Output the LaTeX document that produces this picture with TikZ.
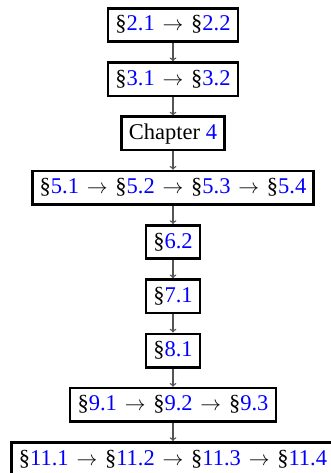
\documentclass[tikz,border=0pt]{standalone}
\usepackage{fontspec}
\setmainfont{Liberation Serif}
\usepackage{xcolor}
\definecolor{linkblue}{HTML}{0000FF}
\definecolor{flowgray}{HTML}{555555}
\usetikzlibrary{positioning}
\newcommand{\refno}[1]{\textcolor{linkblue}{#1}}
\newcommand{\nxt}{\hspace{7.8pt}$\rightarrow$\hspace{7.8pt}}

\begin{document}
\begin{tikzpicture}[x=1pt,y=1pt,node distance=18.25pt,
  stepbox/.style={draw=black,line width=2.6pt,inner xsep=7.5pt,inner ysep=0pt,
                  text height=16pt,text depth=4pt,
                  minimum height=33.4pt,font=\fontsize{22.5}{26}\selectfont},
  flow/.style={->,line width=1.4pt,flowgray}]

  \useasboundingbox (0,0) rectangle (330,-473);

  % chapters, top to bottom
  \node[stepbox] (c2) at (173,-25) {§\refno{2.1}\nxt§\refno{2.2}};
  \node[stepbox,below=of c2] (c3) {§\refno{3.1}\nxt§\refno{3.2}};
  \node[stepbox,below=of c3] (c4) {Chapter \refno{4}};
  \node[stepbox,below=of c4] (c5) {§\refno{5.1}\nxt§\refno{5.2}\nxt§\refno{5.3}\nxt§\refno{5.4}};
  \node[stepbox,below=of c5] (c6) {§\refno{6.2}};
  \node[stepbox,below=of c6] (c7) {§\refno{7.1}};
  \node[stepbox,below=of c7] (c8) {§\refno{8.1}};
  \node[stepbox,below=of c8] (c9) {§\refno{9.1}\nxt§\refno{9.2}\nxt§\refno{9.3}};
  \node[stepbox,below=of c9] (c11) {§\refno{11.1}\nxt§\refno{11.2}\nxt§\refno{11.3}\nxt§\refno{11.4}};

  % reading order
  \foreach \a/\b in {c2/c3,c3/c4,c4/c5,c5/c6,c6/c7,c7/c8,c8/c9,c9/c11}
    \draw[flow] (\a) -- (\b);
\end{tikzpicture}
\end{document}
